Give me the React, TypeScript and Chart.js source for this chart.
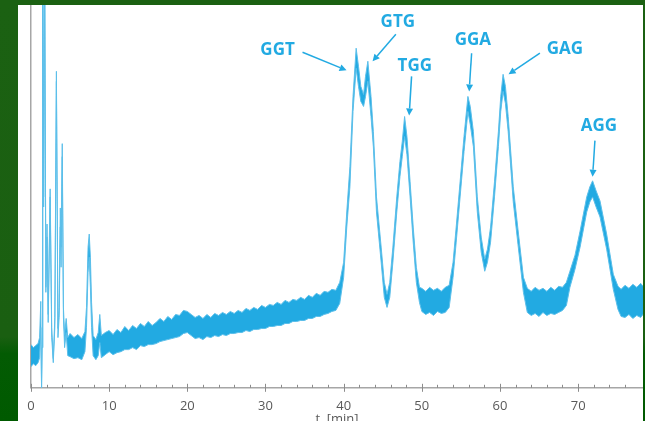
import { useEffect, useRef } from "react";
import { Chart, registerables } from "chart.js";

Chart.register(...registerables);

// retention time (min)
const times = [
  0.0, 0.3, 0.6, 0.9, 1.1, 1.25, 1.35, 1.42, 1.5, 1.62, 1.75, 1.9, 2.05, 2.2, 2.45, 2.65, 2.85, 3.05, 3.25, 3.45,
  3.6, 3.75, 3.85, 4.0, 4.15, 4.3, 4.5, 4.7, 5.0, 5.5, 6.0, 6.5, 6.9, 7.1, 7.3, 7.45, 7.6, 7.75, 7.95, 8.3,
  8.6, 8.8, 9.0, 9.5, 10.0, 10.5, 11.0, 11.5, 12.0, 12.5, 13.0, 13.5, 14.0, 14.5, 15.0, 15.5, 16.0, 16.5, 17.0, 17.5,
  18.0, 18.5, 19.0, 19.5, 20.0, 20.5, 21.0, 21.5, 22.0, 22.5, 23.0, 23.5, 24.0, 24.5, 25.0, 25.5, 26.0, 26.5, 27.0, 27.5,
  28.0, 28.5, 29.0, 29.5, 30.0, 30.5, 31.0, 31.5, 32.0, 32.5, 33.0, 33.5, 34.0, 34.5, 35.0, 35.5, 36.0, 36.5, 37.0, 37.5,
  38.0, 38.5, 39.0, 39.5, 40.0, 40.4, 40.8, 41.2, 41.6, 41.9, 42.2, 42.55, 42.8, 43.1, 43.5, 43.8, 44.2, 44.8, 45.2, 45.55,
  45.9, 46.3, 46.8, 47.2, 47.5, 47.8, 48.1, 48.5, 48.9, 49.3, 49.7, 50.0, 50.5, 51.0, 51.5, 52.0, 52.5, 53.0, 53.5, 54.0,
  54.4, 54.9, 55.4, 55.9, 56.2, 56.6, 57.1, 57.6, 58.05, 58.4, 58.8, 59.3, 59.8, 60.1, 60.4, 60.7, 61.05, 61.7, 62.3, 63.0,
  63.5, 64.0, 64.5, 65.0, 65.5, 66.0, 66.5, 67.0, 67.5, 68.0, 68.5, 68.95, 69.6, 70.25, 71.1, 71.5, 71.85, 72.3, 72.8, 73.65,
  74.5, 75.1, 75.5, 76.0, 76.5, 77.0, 77.5, 78.0, 78.3,
];

// upper edge of the noisy detector signal (a.u.)
const upper = [
  43, 40, 42, 44, 50, 86, 0, 40, 430, 190, 430, 100, 163, 73, 198, 60, 29, 70, 315, 59,
  80, 179, 140, 243, 80, 53, 69, 50, 54, 50, 53, 49, 56, 80, 140, 153, 130, 85, 52, 48,
  55, 73, 52, 55, 57, 53, 58, 55, 61, 57, 62, 59, 64, 61, 66, 62, 65, 69, 66, 71,
  68, 73, 72, 77, 76, 73, 70, 72, 69, 73, 70, 74, 72, 75, 73, 76, 74, 77, 75, 79,
  77, 80, 78, 82, 80, 83, 82, 85, 83, 87, 85, 88, 87, 90, 88, 92, 90, 94, 92, 96,
  95, 98, 97, 105, 125, 175, 220, 290, 338, 320, 300, 292, 310, 325, 290, 255, 190, 140, 105, 93,
  105, 140, 190, 225, 245, 270, 250, 205, 160, 120, 100, 99, 96, 100, 97, 99, 96, 100, 102, 125,
  160, 205, 250, 290, 280, 255, 190, 150, 128, 138, 160, 205, 255, 290, 312, 300, 270, 200, 158, 110,
  99, 96, 100, 97, 99, 96, 100, 97, 101, 100, 105, 116, 132, 156, 190, 200, 206, 196, 186, 153,
  113, 101, 98, 102, 99, 103, 100, 104, 101,
];

// lower edge of the noisy detector signal (a.u.)
const lower = [
  21, 24, 22, 25, 30, 60, 0, 40, 430, 180, 430, 95, 150, 65, 190, 50, 25, 60, 305, 50,
  70, 160, 120, 230, 70, 40, 55, 32, 31, 29, 30, 28, 36, 60, 115, 130, 100, 60, 32, 28,
  32, 45, 30, 33, 36, 33, 35, 36, 38, 38, 40, 38, 42, 41, 43, 43, 44, 46, 47, 48,
  49, 50, 51, 54, 55, 52, 49, 50, 48, 51, 50, 52, 51, 53, 52, 54, 54, 55, 55, 57,
  56, 58, 58, 59, 59, 61, 61, 62, 62, 64, 64, 66, 66, 67, 67, 69, 69, 71, 71, 73,
  74, 76, 77, 84, 110, 160, 200, 275, 318, 300, 285, 280, 290, 305, 270, 240, 175, 125, 90, 80,
  90, 125, 175, 210, 230, 250, 232, 190, 145, 105, 85, 76, 73, 75, 72, 76, 74, 75, 80, 110,
  145, 190, 235, 275, 262, 240, 175, 135, 116, 125, 145, 190, 240, 275, 295, 283, 255, 185, 143, 95,
  75, 72, 74, 71, 75, 72, 74, 73, 75, 77, 82, 100, 118, 140, 175, 185, 190, 180, 170, 138,
  98, 78, 71, 70, 73, 69, 72, 70, 73,
];

const xMin = 0;
const xMax = 78.3;
const yMin = 0;
const yMax = 381;
const xStep = 2;
const xLabelEvery = 10;
const xTitle = "t  [min]";

// peak annotations
const annNames = ["GGT", "GTG", "TGG", "GGA", "GAG", "AGG"];
const annTextT = [31.55, 46.93, 49.11, 56.53, 68.31, 72.66];
const annTextV = [336, 364, 320, 346, 337, 260];
const annFromT = [34.74, 46.68, 48.69, 56.37, 65.11, 72.15];
const annFromV = [334, 352, 310, 333, 333, 246];
const annToT = [40.37, 43.7, 48.38, 56.06, 61.1, 71.85];
const annToV = [316, 325, 271, 295, 312, 210];

const BLUE = "#22aae2";
const EDGE = "#5cbfea";
const AXIS = "#a6a6a6";

const tickPlugin = {
  id: "customTicks",
  afterDraw(chart: any) {
    const sx = chart.scales.x;
    const ctx = chart.ctx;
    const y0 = chart.chartArea.bottom;
    ctx.save();
    ctx.strokeStyle = "#8c8c8c";
    ctx.lineWidth = 1;
    for (const t of sx.ticks) {
      const v = t.value;
      if (Math.abs(v / xStep - Math.round(v / xStep)) > 1e-6) continue;
      const major = Math.abs(v / xLabelEvery - Math.round(v / xLabelEvery)) < 1e-6;
      const x = Math.round(sx.getPixelForValue(v)) + 0.5;
      ctx.beginPath();
      ctx.moveTo(x, y0 - (major ? 4 : 3));
      ctx.lineTo(x, y0 + (major ? 4 : 0));
      ctx.stroke();
    }
    ctx.restore();
  },
};

const annotationPlugin = {
  id: "peakLabels",
  afterDatasetsDraw(chart: any) {
    const sx = chart.scales.x;
    const sy = chart.scales.y;
    const ctx = chart.ctx;
    ctx.save();
    ctx.fillStyle = BLUE;
    ctx.strokeStyle = BLUE;
    ctx.lineWidth = 1.5;
    ctx.font = "bold 17px 'Open Sans', sans-serif";
    ctx.textAlign = "center";
    ctx.textBaseline = "middle";
    annNames.forEach((name, i) => {
      ctx.fillText(name, sx.getPixelForValue(annTextT[i]), sy.getPixelForValue(annTextV[i]));
      const x1 = sx.getPixelForValue(annFromT[i]);
      const y1 = sy.getPixelForValue(annFromV[i]);
      const x2 = sx.getPixelForValue(annToT[i]);
      const y2 = sy.getPixelForValue(annToV[i]);
      const ang = Math.atan2(y2 - y1, x2 - x1);
      const hl = 7;
      const hw = 3.5;
      const bx = x2 - hl * Math.cos(ang);
      const by = y2 - hl * Math.sin(ang);
      ctx.beginPath();
      ctx.moveTo(x1, y1);
      ctx.lineTo(bx, by);
      ctx.stroke();
      ctx.beginPath();
      ctx.moveTo(x2, y2);
      ctx.lineTo(bx + hw * Math.sin(ang), by - hw * Math.cos(ang));
      ctx.lineTo(bx - hw * Math.sin(ang), by + hw * Math.cos(ang));
      ctx.closePath();
      ctx.fill();
    });
    ctx.restore();
  },
};

export default function App() {
  const ref = useRef<HTMLCanvasElement>(null);

  useEffect(() => {
    if (!ref.current) return;
    const lowPts = times.map((t, i) => ({ x: t, y: lower[i] }));
    const upPts = times.map((t, i) => ({ x: t, y: upper[i] }));
    const chart = new Chart(ref.current, {
      type: "line",
      data: {
        datasets: [
          {
            data: lowPts,
            borderColor: EDGE,
            borderWidth: 1,
            pointRadius: 0,
            fill: false,
            tension: 0,
          },
          {
            data: upPts,
            borderColor: EDGE,
            borderWidth: 1,
            pointRadius: 0,
            backgroundColor: BLUE,
            fill: "-1",
            tension: 0,
          },
        ],
      },
      options: {
        animation: false,
        responsive: false,
        maintainAspectRatio: false,
        layout: { padding: { left: 13, right: 0, top: 0, bottom: 0 } },
        plugins: {
          legend: { display: false },
          tooltip: { enabled: false },
          title: { display: false },
        },
        scales: {
          x: {
            type: "linear",
            min: xMin,
            max: xMax,
            grid: { display: false, drawTicks: false },
            border: { display: true, color: AXIS, width: 1.5 },
            afterFit: (s: any) => {
              s.paddingRight = 0;
              s.paddingLeft = 0;
            },
            ticks: {
              stepSize: xStep,
              autoSkip: false,
              maxRotation: 0,
              padding: 11,
              color: "#595959",
              font: { family: "'Open Sans', sans-serif", size: 13 },
              callback: (v: any) => {
                const n = Number(v);
                return Math.abs(n / xLabelEvery - Math.round(n / xLabelEvery)) < 1e-6 ? String(Math.round(n)) : "";
              },
            },
            title: {
              display: true,
              text: xTitle,
              color: "#595959",
              font: { family: "'Open Sans', sans-serif", size: 13 },
              padding: { top: -14, bottom: 4 },
            },
          },
          y: {
            type: "linear",
            min: yMin,
            max: yMax,
            grid: { display: false, drawTicks: false },
            border: { display: true, color: AXIS, width: 1.5 },
            ticks: { display: false },
            afterFit: (s: any) => {
              s.width = 0;
            },
          },
        },
      },
      plugins: [tickPlugin, annotationPlugin],
    });
    return () => chart.destroy();
  }, []);

  return (
    <div
      style={{
        position: "fixed",
        left: 0,
        top: 0,
        width: 645,
        height: 421,
        overflow: "hidden",
        background: "linear-gradient(to bottom, #1b6112 0%, #1a5f11 80%, #035b03 84%, #005a00 100%)",
      }}
    >
      <div
        style={{
          position: "absolute",
          left: 18,
          top: 5,
          width: 625,
          height: 430,
          background: "#ffffff",
        }}
      >
        <canvas ref={ref} width={625} height={426} style={{ display: "block" }} />
      </div>
    </div>
  );
}
